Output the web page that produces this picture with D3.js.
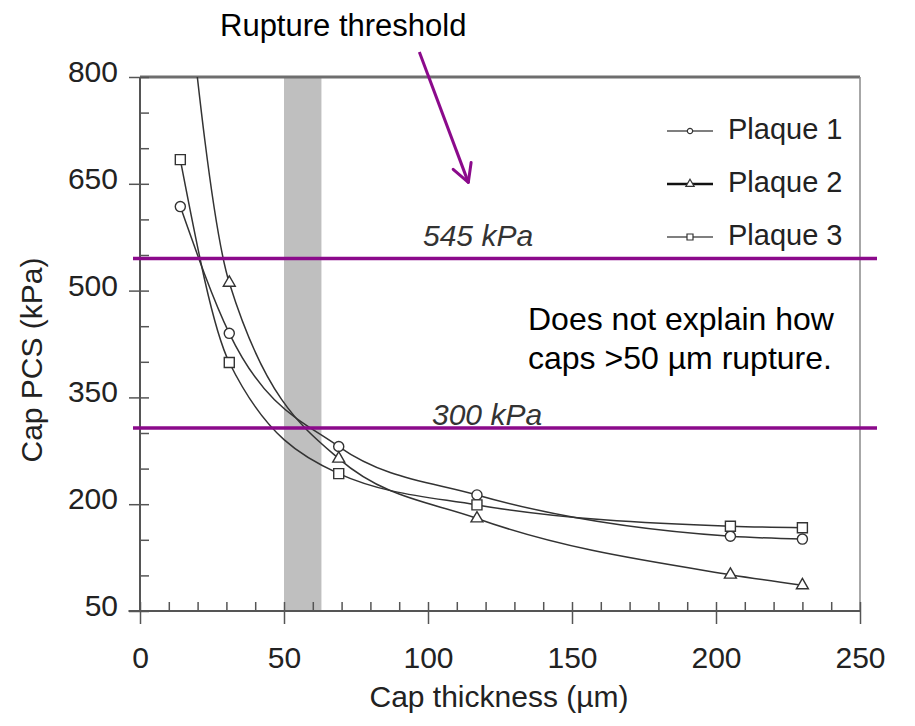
<!DOCTYPE html>
<html>
<head>
<meta charset="utf-8">
<script src="https://cdn.jsdelivr.net/npm/d3@7"></script>
<style>
	body { margin: 0; background: #fff; }
	text { font-family: "Liberation Sans", Arial, Helvetica, sans-serif; }
</style>
</head>
<body>
<div id="chart"></div>
<script>
// values
const thickness = [14, 31, 69, 117, 205, 230];
const plaque1 = [618, 440, 281, 213, 155, 151];
const plaque2 = [1020, 511, 264, 180, 101, 86]; // first point runs off the top
const plaque3 = [684, 399, 243, 199, 169, 167];
const seriesNames = ["Plaque 1", "Plaque 2", "Plaque 3"];
const xMajor = [0, 50, 100, 150, 200, 250];
const yMajor = [50, 200, 350, 500, 650, 800];
const band = [50, 63];
const thresholds = [545, 307];
const thresholdLabels = ["545 kPa", "300 kPa"];

const width = 915, height = 726;
const purple = "#8b0a8b";

let svg = d3.select("#chart").append("svg")
	.attr("width", width)
	.attr("height", height);

// Scales
let x = d3.scaleLinear().domain([0, 250]).range([140, 860]);
let y = d3.scaleLinear().domain([50, 800]).range([611, 77]);

svg.append("clipPath").attr("id", "plotClip")
	.append("rect")
	.attr("x", x(0))
	.attr("y", y(800))
	.attr("width", x(250) - x(0))
	.attr("height", y(50) - y(800));

// grey band
svg.append("rect")
	.attr("x", x(band[0]))
	.attr("y", y(800))
	.attr("width", x(band[1]) - x(band[0]))
	.attr("height", y(50) - y(800))
	.attr("fill", "#bfbfbf");

// frame top + right
svg.append("line")
	.attr("x1", x(0)).attr("x2", x(250))
	.attr("y1", y(800)).attr("y2", y(800))
	.attr("stroke", "#6e6e6e").attr("stroke-width", 3);
svg.append("line")
	.attr("x1", x(250)).attr("x2", x(250))
	.attr("y1", y(800)).attr("y2", y(50))
	.attr("stroke", "#8a8a8a").attr("stroke-width", 1.5);

// Axes
function styleAxis(g) {
	g.select(".domain").remove();
	g.selectAll(".tick line").attr("stroke", "#555").attr("stroke-width", 1.5);
	g.selectAll(".tick text").attr("font-size", 30).attr("fill", "#222")
		.style("font-family", "'Liberation Sans', Arial, sans-serif");
}

svg.append("g")
	.attr("transform", `translate(${x(0)},0)`)
	.call(d3.axisLeft(y).tickValues(yMajor).tickSize(11).tickPadding(11))
	.call(styleAxis)
	.selectAll(".tick text").attr("dy", "0.15em");
svg.append("g")
	.attr("transform", `translate(${x(0)},0)`)
	.call(d3.axisRight(y).tickValues(d3.range(50, 801, 50)).tickSize(9).tickFormat(""))
	.call(styleAxis);
svg.append("line")
	.attr("x1", x(0)).attr("x2", x(0))
	.attr("y1", y(800)).attr("y2", y(50))
	.attr("stroke", "#555").attr("stroke-width", 2);

svg.append("g")
	.attr("transform", `translate(0,${y(50)})`)
	.call(d3.axisBottom(x).tickValues(xMajor).tickSize(13).tickPadding(23))
	.call(styleAxis);
svg.append("g")
	.attr("transform", `translate(0,${y(50)})`)
	.call(d3.axisTop(x).tickValues(d3.range(0, 251, 10)).tickSize(9).tickFormat(""))
	.call(styleAxis);
svg.append("line")
	.attr("x1", x(-4)).attr("x2", x(250))
	.attr("y1", y(50)).attr("y2", y(50))
	.attr("stroke", "#555").attr("stroke-width", 2);

// axis titles
svg.append("text")
	.attr("transform", "translate(42,360) rotate(-90)")
	.attr("text-anchor", "middle")
	.attr("font-size", 30)
	.attr("fill", "#222")
	.text("Cap PCS (kPa)");
svg.append("text")
	.attr("x", 499).attr("y", 707)
	.attr("text-anchor", "middle")
	.attr("font-size", 30)
	.attr("fill", "#222")
	.text("Cap thickness (µm)");

// series
let series = [plaque1, plaque2, plaque3].map((vals, i) => ({
	name: seriesNames[i],
	values: thickness.map((t, j) => ({x: t, y: vals[j]}))
}));
let shapes = [d3.symbolCircle, d3.symbolTriangle, d3.symbolSquare];
let shapeSize = [80, 62, 100];
let legendSize = [22, 30, 36];

let line = d3.line()
	.x(d => x(d.x))
	.y(d => y(d.y))
	.curve(d3.curveMonotoneX);

let plot = svg.append("g").attr("clip-path", "url(#plotClip)");

plot.selectAll("path.series")
	.data(series)
	.enter()
	.append("path")
	.attr("class", "series")
	.attr("d", d => line(d.values))
	.attr("fill", "none")
	.attr("stroke", "#333")
	.attr("stroke-width", 1.5);

series.forEach((s, i) => {
	plot.selectAll("path.mk" + i)
		.data(s.values)
		.enter()
		.append("path")
		.attr("class", "mk" + i)
		.attr("transform", d => `translate(${x(d.x)},${y(d.y)})`)
		.attr("d", d3.symbol().type(shapes[i]).size(shapeSize[i]))
		.attr("fill", "#fff")
		.attr("stroke", "#333")
		.attr("stroke-width", 1.4);
});

// legend
let legend = svg.append("g");
seriesNames.forEach((name, i) => {
	let ly = 131 + i * 53;
	legend.append("line")
		.attr("x1", 667).attr("x2", 713)
		.attr("y1", ly).attr("y2", ly)
		.attr("stroke", i == 1 ? "#111" : "#555")
		.attr("stroke-width", i == 1 ? 2.5 : 1.5);
	legend.append("path")
		.attr("transform", `translate(690,${ly})`)
		.attr("d", d3.symbol().type(shapes[i]).size(legendSize[i]))
		.attr("fill", "#fff")
		.attr("stroke", "#333")
		.attr("stroke-width", 1.2);
	legend.append("text")
		.attr("x", 728).attr("y", ly + 8)
		.attr("font-size", 29)
		.attr("fill", "#222")
		.text(name);
});

// threshold lines and their labels
let labelOffsets = [[423, -13], [432, -3.5]];
thresholds.forEach((v, i) => {
	svg.append("text")
		.attr("x", labelOffsets[i][0])
		.attr("y", y(v) + labelOffsets[i][1])
		.attr("font-size", 30)
		.attr("font-style", "italic")
		.attr("fill", "#333")
		.text(thresholdLabels[i]);
	svg.append("line")
		.attr("x1", 133).attr("x2", 877)
		.attr("y1", y(v)).attr("y2", y(v))
		.attr("stroke", purple)
		.attr("stroke-width", 3.5);
});

// annotations
svg.append("text")
	.attr("x", 220).attr("y", 36)
	.attr("font-size", 31)
	.attr("fill", "#000")
	.text("Rupture threshold");

let tip = [x(114), y(652)];
let tail = [x(97), y(835)];
svg.append("line")
	.attr("x1", tail[0]).attr("y1", tail[1])
	.attr("x2", tip[0]).attr("y2", tip[1])
	.attr("stroke", purple).attr("stroke-width", 3);
let ang = Math.atan2(tip[1] - tail[1], tip[0] - tail[0]);
[-0.5, 0.5].forEach(da => {
	svg.append("line")
		.attr("x1", tip[0]).attr("y1", tip[1])
		.attr("x2", tip[0] - 20 * Math.cos(ang + da))
		.attr("y2", tip[1] - 20 * Math.sin(ang + da))
		.attr("stroke", purple).attr("stroke-width", 3)
		.attr("stroke-linecap", "round");
});

let note = svg.append("text")
	.attr("font-size", 32)
	.attr("fill", "#000");
note.append("tspan").attr("x", 528).attr("y", 330).text("Does not explain how");
note.append("tspan").attr("x", 528).attr("y", 369).text("caps >50 µm rupture.");
</script>
</body>
</html>
